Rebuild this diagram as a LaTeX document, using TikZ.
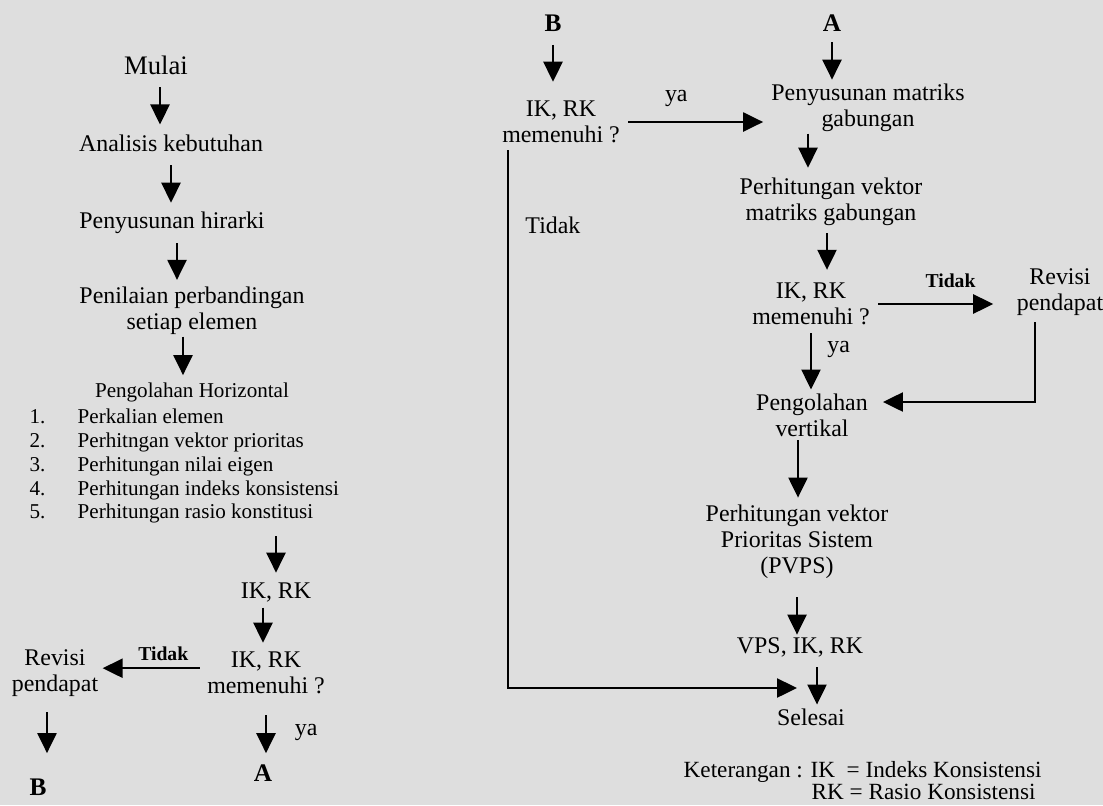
\documentclass[tikz,border=0pt]{standalone}
\usepackage{fontspec}
\setmainfont{Liberation Serif}
\usepackage{tikz}
\usetikzlibrary{arrows.meta}
\definecolor{kertas}{RGB}{222,222,222}

\begin{document}
\begin{tikzpicture}[x=0.025cm, y=-0.025cm,
  teks/.style={inner sep=1pt, align=center, font=\fontsize{17}{18.5}\selectfont},
  daftar/.style={inner sep=1pt, align=left, font=\fontsize{15}{17}\selectfont},
  huruf/.style={inner sep=1pt, font=\bfseries\fontsize{18}{20}\selectfont},
  ket/.style={inner sep=1pt, font=\bfseries\fontsize{14}{16}\selectfont},
  panah/.style={-{Triangle[length=0.5cm, width=0.48cm]}, line width=1.2pt}]

% Page
\useasboundingbox (0,0) rectangle (1103,805);
\fill [kertas] (0,0) rectangle (1103,805);

% Left column: horizontal processing
\node [teks, font=\fontsize{19}{21}\selectfont] (mulai) at (156,65) {Mulai};
\node [teks] (analisis) at (171,143) {Analisis kebutuhan};
\node [teks] (hirarki) at (172,223) {Penyusunan hirarki};
\node [teks] (penilaian) at (192,311) {Penilaian perbandingan\\setiap elemen};
\node [teks, font=\fontsize{15}{17}\selectfont] (horizontal) at (192,392) {Pengolahan Horizontal};
\node [daftar, anchor=north west] (proses) at (28,407) {\makebox[1.2cm][l]{1.}Perkalian elemen\\
  \makebox[1.2cm][l]{2.}Perhitngan vektor prioritas\\
  \makebox[1.2cm][l]{3.}Perhitungan nilai eigen\\
  \makebox[1.2cm][l]{4.}Perhitungan indeks konsistensi\\
  \makebox[1.2cm][l]{5.}Perhitungan rasio konstitusi};
\node [teks] (ikrk) at (276,592) {IK, RK};
\node [teks] (tanya1) at (266,673) {IK, RK\\memenuhi ?};
\node [teks] (revisi1) at (55,673) {Revisi\\pendapat};
\node [huruf] (titikB) at (38,787) {B};
\node [huruf] (titikA) at (263,773) {A};

% Arrows, left column
\draw [panah, shorten <=8pt, shorten >=6pt] ([xshift=0.1cm]mulai.south) -- ([xshift=0.1cm]mulai.south |- analisis.north);
\draw [panah, shorten <=8.8pt, shorten >=5.5pt] (analisis.south) -- (analisis.south |- hirarki.north);
\draw [panah, shorten <=5.5pt, shorten >=4pt] ([xshift=0.125cm]hirarki.south) -- ([xshift=0.125cm]hirarki.south |- penilaian.north);
\draw [panah, shorten <=0pt, shorten >=4pt] ([xshift=-0.225cm]penilaian.south) -- ([xshift=-0.225cm]penilaian.south |- horizontal.north);
\draw [panah, shorten <=8pt, shorten >=5.7pt] (proses.south -| ikrk.north) -- (ikrk.north);
\draw [panah, shorten <=3pt, shorten >=5.4pt] ([xshift=-0.325cm]ikrk.south) -- ([xshift=-0.325cm]ikrk.south |- tanya1.north);
\draw [panah, shorten <=4pt, shorten >=2pt] ([yshift=0.12cm]tanya1.west) -- ([yshift=0.12cm]tanya1.west -| revisi1.east)
  node [ket, pos=0.4, above=4pt] (tidak1) {Tidak};
\draw [panah, shorten <=14pt, shorten >=7pt] (tanya1.south) -- (tanya1.south |- titikA.north)
  node [teks, pos=0.55, right=19pt] (ya1) {ya};
\draw [panah, shorten <=10pt, shorten >=17pt] ([xshift=-0.2cm]revisi1.south) -- ([xshift=-0.2cm]revisi1.south |- titikB.north);

% Right column: vertical processing
\node [huruf] (awalB) at (553,23) {B};
\node [huruf] (awalA) at (832,23) {A};
\node [teks] (tanya2) at (561,122) {IK, RK\\memenuhi ?};
\node [teks] (penyusunan) at (868,108) {Penyusunan matriks\\gabungan};
\node [teks] (gabungan) at (831,202) {Perhitungan vektor\\matriks gabungan};
\node [teks] (tanya3) at (811,304) {IK, RK\\memenuhi ?};
\node [teks] (revisi2) at (1060,292) {Revisi\\pendapat};
\node [teks] (pengolahan) at (812,415) {Pengolahan\\vertikal};
\node [teks] (pvps) at (797,542) {Perhitungan vektor\\Prioritas Sistem\\(PVPS)};
\node [teks] (vps) at (800,647) {VPS, IK, RK};
\node [teks] (selesai) at (811,717) {Selesai};
\coordinate (masuk) at (797,688);

% Arrows, right column
\draw [panah, shorten <=8.5pt, shorten >=12.5pt] (awalB.south) -- (awalB.south |- tanya2.north);
\draw [panah, shorten <=4.7pt, shorten >=4.7pt] (tanya2.east) -- (tanya2.east -| penyusunan.west)
  node [teks, pos=0.37, above=9.5pt] (ya2) {ya};
\draw [panah, shorten <=6.4pt, shorten >=2pt] (awalA.south) -- (awalA.south |- penyusunan.north);
\draw [panah, shorten <=0pt, shorten >=6.2pt] ([xshift=-1.5cm]penyusunan.south) -- ([xshift=-1.5cm]penyusunan.south |- gabungan.north);
\draw [panah, shorten <=4pt, shorten >=8.2pt] ([xshift=-0.1cm]gabungan.south) -- ([xshift=-0.1cm]gabungan.south |- tanya3.north);
\draw [panah, shorten <=4.7pt, shorten >=15.6pt] (tanya3.east) -- (tanya3.east -| revisi2.west)
  node [ket, pos=0.55, above=10pt] (tidak3) {Tidak};
\draw [panah, shorten <=3.5pt, shorten >=9.6pt] ([xshift=-0.625cm]revisi2.south) |- ([yshift=0.325cm]pengolahan.east);
\draw [panah, shorten <=4.7pt, shorten >=1.7pt] (tanya3.south) -- (tanya3.south |- pengolahan.north)
  node [teks, pos=0.35, right=10pt] (ya3) {ya};
\draw [panah, shorten <=1.6pt, shorten >=4.2pt] ([xshift=-0.35cm]pengolahan.south) -- ([xshift=-0.35cm]pengolahan.south |- pvps.north);
\draw [panah, shorten <=12pt, shorten >=0.7pt] (pvps.south) -- (pvps.south |- vps.north);
\draw [panah, shorten <=6.4pt, shorten >=1.7pt] ([xshift=0.425cm]vps.south) -- ([xshift=0.425cm]vps.south |- selesai.north);
\draw [panah, shorten <=4pt] ([xshift=0.18cm]tanya2.south west) |- (masuk)
  node [teks, pos=0.074, right=11pt] (tidak2) {Tidak};

% Legend
\node [teks, anchor=west, font=\fontsize{16.5}{18}\selectfont] (ket1) at (682,772) {Keterangan : IK\ \ = Indeks Konsistensi};
\node [teks, anchor=west, font=\fontsize{16.5}{18}\selectfont] (ket2) at (810,792) {RK = Rasio Konsistensi};

\end{tikzpicture}
\end{document}
